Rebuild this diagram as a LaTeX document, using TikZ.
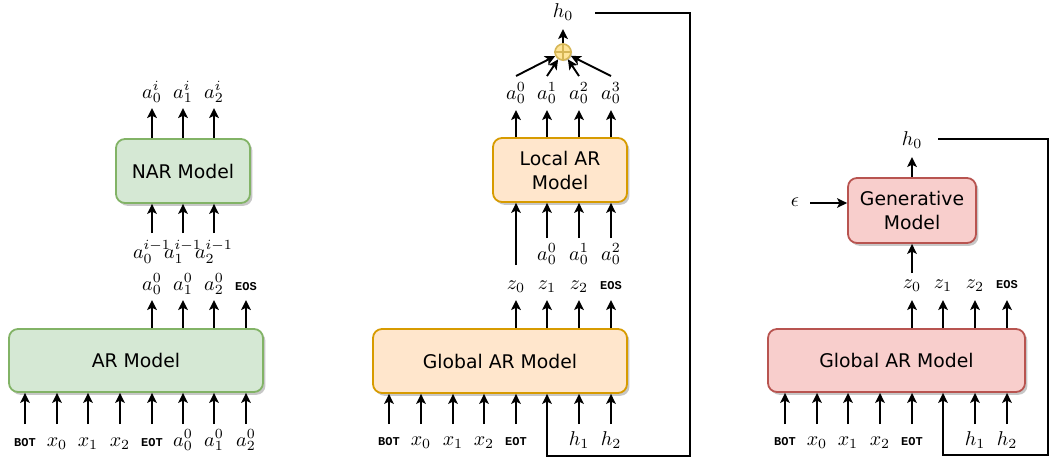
\documentclass[tikz,border=0pt]{standalone}
\usepackage{fontspec}
\setmainfont{DejaVu Sans}
\newfontfamily\tokfont{Liberation Mono}
\usetikzlibrary{arrows.meta,shadows}
\definecolor{gfill}{HTML}{D5E8D4}
\definecolor{gdraw}{HTML}{82B366}
\definecolor{ofill}{HTML}{FFE6CC}
\definecolor{odraw}{HTML}{D79B00}
\definecolor{rfill}{HTML}{F8CECC}
\definecolor{rdraw}{HTML}{B85450}
\definecolor{cfill}{HTML}{FFE599}
\definecolor{cdraw}{HTML}{D6B656}
\newcommand{\tk}[1]{{\tokfont\bfseries\fontsize{6}{7}\selectfont #1}}
\tikzset{
  model/.style={draw, rounded corners=4.5pt, line width=0.9pt, align=center,
    inner sep=0pt, font=\fontsize{9.4}{12}\selectfont,
    drop shadow={shadow xshift=1.2pt, shadow yshift=-1.4pt, opacity=0.22, fill=black}},
  greenbox/.style={model, fill=gfill, draw=gdraw},
  orangebox/.style={model, fill=ofill, draw=odraw},
  redbox/.style={model, fill=rfill, draw=rdraw},
  tip/.style={-{Stealth[length=5pt,width=4.8pt,inset=1.2pt]}},
  arr/.style={tip, line width=0.95pt},
  fb/.style={tip, line width=0.7pt},
  lab/.style={inner sep=0pt, anchor=base},
}
\begin{document}
\begin{tikzpicture}[x=0.5pt,y=-0.5pt]
\useasboundingbox (0,0) rectangle (1053,462);

% ================= Left panel =================
\node[greenbox, minimum width=127pt, minimum height=31.5pt] (ar) at (136,360.5) {AR Model};
\node[greenbox, minimum width=67pt, minimum height=32pt] (nar) at (183,171) {NAR Model};

\foreach \x/\t [count=\i] in {25/\tk{BOT},57/$x_0$,88/$x_1$,120/$x_2$,152/\tk{EOT},183/$a_0^0$,214/$a_1^0$,246/$a_2^0$}{
  \node[lab] (Lin\i) at (\x,446) {\t};
  \coordinate (Lbs\i) at (\x,424);
  \draw[arr] (Lbs\i) -- (Lbs\i |- ar.south);
}
\foreach \x/\t [count=\i] in {152/$a_0^0$,183/$a_1^0$,214/$a_2^0$,246/\tk{EOS}}{
  \node[lab] (Lout\i) at (\x,290) {\t};
  \coordinate (Lot\i) at (\x,300);
  \draw[arr] (Lot\i |- ar.north) -- (Lot\i);
}
\foreach \x/\t [count=\i] in {152/$a_0^{i-1}$,183/$a_1^{i-1}$,214/$a_2^{i-1}$}{
  \node[lab] (Lnin\i) at (\x,258) {\t};
  \coordinate (Lns\i) at (\x,233);
  \draw[arr] (Lns\i) -- (Lns\i |- nar.south);
}
\foreach \x/\t [count=\i] in {152/$a_0^{i}$,183/$a_1^{i}$,214/$a_2^{i}$}{
  \node[lab] (Lnout\i) at (\x,98) {\t};
  \coordinate (Lnt\i) at (\x,108);
  \draw[arr] (Lnt\i |- nar.north) -- (Lnt\i);
}

% ================= Middle panel =================
\node[orangebox, minimum width=127pt, minimum height=32pt] (gar) at (500,361) {Global AR Model};
\node[orangebox, minimum width=67pt, minimum height=32pt] (lar) at (560,170) {Local AR\\Model};

\foreach \x/\t [count=\i] in {389/\tk{BOT},421/$x_0$,453/$x_1$,484/$x_2$,516/\tk{EOT},579/$h_1$,611/$h_2$}{
  \node[lab] (Min\i) at (\x,445) {\t};
  \coordinate (Mbs\i) at (\x,424);
  \draw[arr] (Mbs\i) -- (Mbs\i |- gar.south);
}
\foreach \x/\t [count=\i] in {516/$z_0$,547/$z_1$,579/$z_2$,611/\tk{EOS}}{
  \node[lab] (Mz\i) at (\x,289) {\t};
  \coordinate (Mzt\i) at (\x,300);
  \draw[arr] (Mzt\i |- gar.north) -- (Mzt\i);
}
\coordinate (Mz0top) at (516,265);
\draw[arr] (Mz0top) -- (Mz0top |- lar.south);
\foreach \x/\t [count=\i] in {547/$a_0^0$,579/$a_0^1$,611/$a_0^2$}{
  \node[lab] (Mla\i) at (\x,260) {\t};
  \coordinate (Mls\i) at (\x,238);
  \draw[arr] (Mls\i) -- (Mls\i |- lar.south);
}
\node[circle, draw=cdraw, fill=cfill, line width=0.8pt, minimum size=8pt, inner sep=0pt,
  drop shadow={shadow xshift=0.6pt, shadow yshift=-0.6pt, opacity=0.18, fill=black}] (circ) at (563,52) {};
\draw[cdraw, line width=0.6pt] (circ.north) -- (circ.south) (circ.west) -- (circ.east);
\foreach \x/\t [count=\i] in {516/$a_0^0$,547/$a_0^1$,579/$a_0^2$,611/$a_0^3$}{
  \node[lab] (Mlo\i) at (\x,99) {\t};
  \coordinate (Mlt\i) at (\x,110);
  \draw[arr] (Mlt\i |- lar.north) -- (Mlt\i);
  \coordinate (Msum\i) at (\x,76);
  \draw[arr] (Msum\i) -- (circ);
}
\node[lab] (Mh0) at (563,17) {$h_0$};
\coordinate (Mh0tip) at (563,29);
\draw[arr] (circ.north) -- (Mh0tip);
\coordinate (Mfb0) at (595,13);
\coordinate (Mfb1) at (690,456);
\coordinate (Mfb2) at (547,456);
\draw[fb] (Mfb0) -| (Mfb1) -- (Mfb2) -- (Mfb2 |- gar.south);

% ================= Right panel =================
\node[redbox, minimum width=128.5pt, minimum height=31.5pt] (rgar) at (896.5,360.5) {Global AR Model};
\node[redbox, minimum width=64pt, minimum height=32.5pt] (gen) at (912,210.5) {Generative\\Model};

\foreach \x/\t [count=\i] in {785/\tk{BOT},817/$x_0$,848/$x_1$,880/$x_2$,912/\tk{EOT},975/$h_1$,1007/$h_2$}{
  \node[lab] (Rin\i) at (\x,445) {\t};
  \coordinate (Rbs\i) at (\x,424);
  \draw[arr] (Rbs\i) -- (Rbs\i |- rgar.south);
}
\foreach \x/\t [count=\i] in {912/$z_0$,943/$z_1$,975/$z_2$,1007/\tk{EOS}}{
  \node[lab] (Rz\i) at (\x,288) {\t};
  \coordinate (Rzt\i) at (\x,300);
  \draw[arr] (Rzt\i |- rgar.north) -- (Rzt\i);
}
\coordinate (Rz0top) at (912,273);
\draw[arr] (Rz0top) -- (Rz0top |- gen.south);
\node[lab] (Rh0) at (912,145) {$h_0$};
\coordinate (Rh0tip) at (912,157);
\draw[arr] (gen.north) -- (Rh0tip);
\node[lab] (eps) at (795,206) {$\epsilon$};
\coordinate (epsa) at (810,203);
\draw[arr] (epsa) -- (epsa -| gen.west);
\coordinate (Rfb0) at (938,139);
\coordinate (Rfb1) at (1048,455);
\coordinate (Rfb2) at (943,455);
\draw[fb] (Rfb0) -| (Rfb1) -- (Rfb2) -- (Rfb2 |- rgar.south);
\end{tikzpicture}
\end{document}
